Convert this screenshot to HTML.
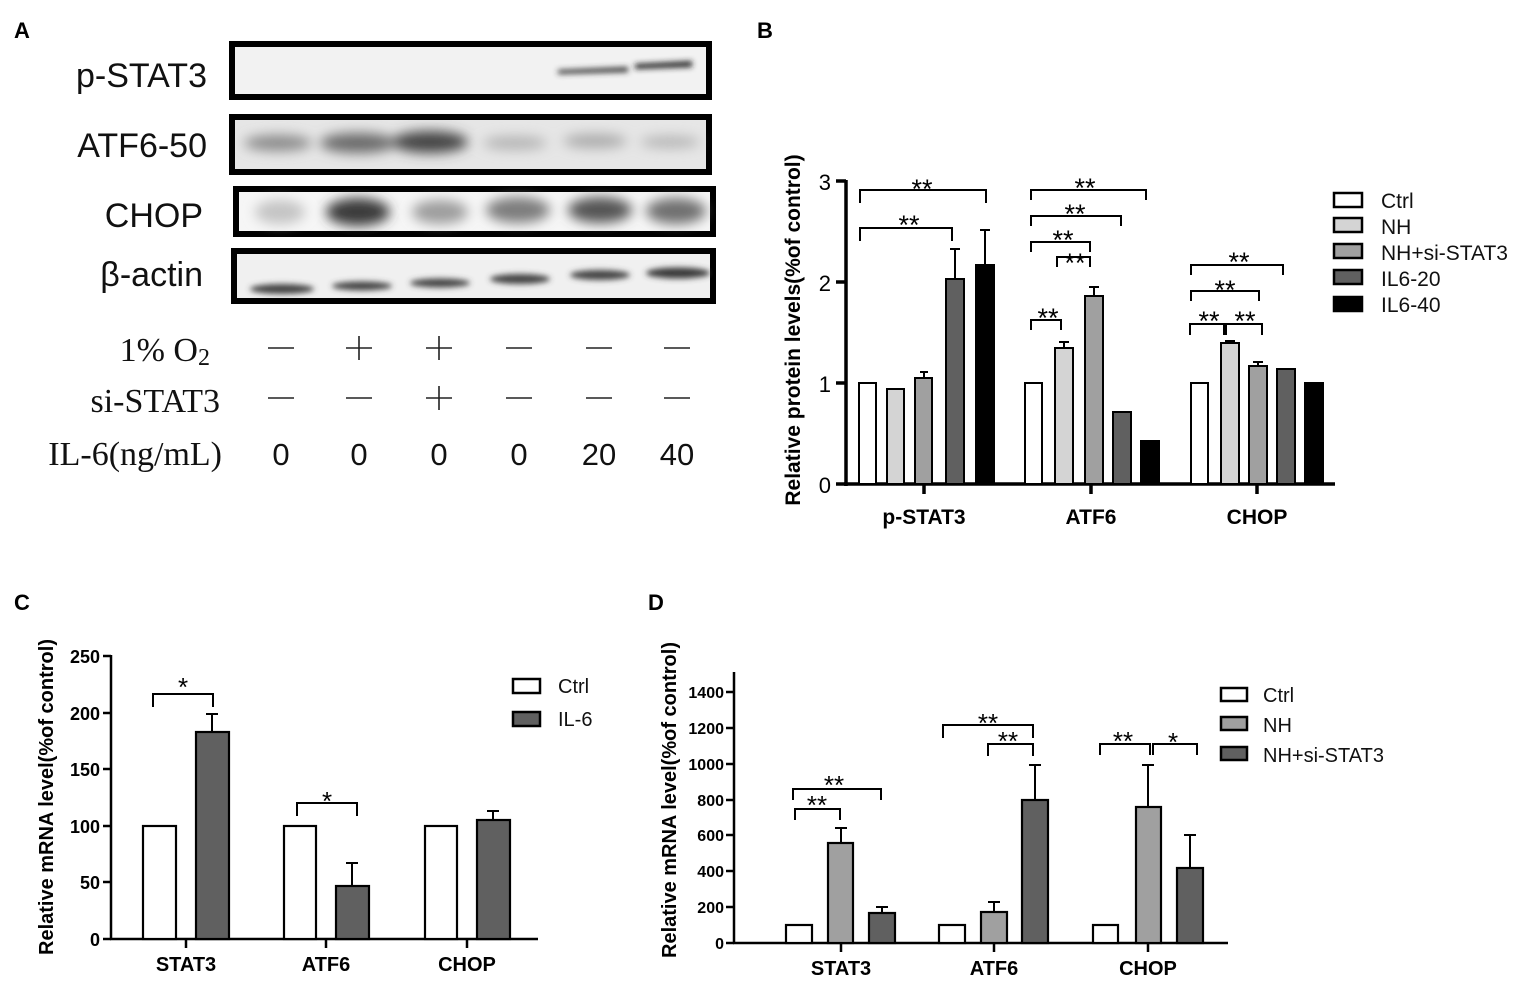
<!DOCTYPE html>
<html><head><meta charset="utf-8"><style>
html,body{margin:0;padding:0;background:#fff;}
svg{display:block;}
text{font-family:"Liberation Sans",Arial,sans-serif;}
.b{font-weight:bold;}
.serif{font-family:"Liberation Serif","Times New Roman",serif;}
</style></head><body>
<svg width="1535" height="985" viewBox="0 0 1535 985" xmlns="http://www.w3.org/2000/svg">
<defs>
<filter id="bl" x="-20%" y="-100%" width="140%" height="300%"><feGaussianBlur stdDeviation="3"/></filter>
<filter id="bl2" x="-20%" y="-100%" width="140%" height="300%"><feGaussianBlur stdDeviation="6"/></filter>
</defs>
<rect width="1535" height="985" fill="#fff"/>
<text x="14" y="38" font-size="22" class="b">A</text>
<text x="757" y="38" font-size="22" class="b">B</text>
<text x="14" y="610" font-size="22" class="b">C</text>
<text x="648" y="610" font-size="22" class="b">D</text>

<!-- Panel A blots -->
<g>
<rect x="232" y="44" width="477" height="53" fill="#f2f2f2" stroke="#000" stroke-width="6"/>
<g filter="url(#bl)">
<path d="M558 70 L628 67 L628 72 L558 74Z" fill="#333"/>
<path d="M635 64 L692 61 L692 67 L635 69Z" fill="#222"/>
</g>
<rect x="232" y="117" width="477" height="55" fill="#e6e6e6" stroke="#000" stroke-width="6"/>
<g filter="url(#bl2)">
<ellipse cx="278" cy="143" rx="34" ry="8" fill="#8a8a8a"/>
<ellipse cx="358" cy="143" rx="38" ry="10" fill="#6a6a6a"/>
<ellipse cx="430" cy="142" rx="38" ry="11" fill="#444"/>
<ellipse cx="515" cy="143" rx="32" ry="7" fill="#b5b5b5"/>
<ellipse cx="595" cy="141" rx="32" ry="7" fill="#aaa"/>
<ellipse cx="670" cy="142" rx="30" ry="6" fill="#b5b5b5"/>
</g>
<rect x="236" y="189" width="477" height="45" fill="#f6f6f6" stroke="#000" stroke-width="6"/>
<g filter="url(#bl2)">
<ellipse cx="280" cy="212" rx="25" ry="12" fill="#c4c4c4"/>
<ellipse cx="358" cy="212" rx="32" ry="14" fill="#3a3a3a"/>
<ellipse cx="440" cy="212" rx="28" ry="12" fill="#9d9d9d"/>
<ellipse cx="518" cy="210" rx="32" ry="13" fill="#7d7d7d"/>
<ellipse cx="600" cy="210" rx="32" ry="13" fill="#555"/>
<ellipse cx="676" cy="211" rx="30" ry="13" fill="#707070"/>
</g>
<rect x="234" y="251" width="479" height="50" fill="#f0f0f0" stroke="#000" stroke-width="6"/>
<g filter="url(#bl)">
<ellipse cx="282" cy="289" rx="32" ry="5" fill="#444"/>
<ellipse cx="362" cy="286" rx="30" ry="4.5" fill="#444"/>
<ellipse cx="440" cy="283" rx="30" ry="4.5" fill="#444"/>
<ellipse cx="520" cy="279" rx="30" ry="5" fill="#444"/>
<ellipse cx="600" cy="275" rx="30" ry="5" fill="#444"/>
<ellipse cx="678" cy="273" rx="32" ry="5.5" fill="#3a3a3a"/>
</g>
<g font-size="34" text-anchor="end" fill="#111">
<text x="207" y="87">p-STAT3</text>
<text x="207" y="157">ATF6-50</text>
<text x="203" y="227">CHOP</text>
<text x="203" y="286">β-actin</text>
</g>
<g class="serif" font-size="34" text-anchor="end" fill="#111">
<text x="210" y="361" class="serif">1% O<tspan font-size="24" dy="4">2</tspan></text>
<text x="220" y="412" class="serif">si-STAT3</text>
<text x="222" y="465" class="serif">IL-6(ng/mL)</text>
</g>
<g stroke="#222" stroke-width="1.6">
<line x1="268" y1="348" x2="294" y2="348"/>
<line x1="346" y1="348" x2="372" y2="348"/><line x1="359" y1="336" x2="359" y2="360"/>
<line x1="426" y1="348" x2="452" y2="348"/><line x1="439" y1="336" x2="439" y2="360"/>
<line x1="506" y1="348" x2="532" y2="348"/>
<line x1="586" y1="348" x2="612" y2="348"/>
<line x1="664" y1="348" x2="690" y2="348"/>
<line x1="268" y1="398" x2="294" y2="398"/>
<line x1="346" y1="398" x2="372" y2="398"/>
<line x1="426" y1="398" x2="452" y2="398"/><line x1="439" y1="386" x2="439" y2="410"/>
<line x1="506" y1="398" x2="532" y2="398"/>
<line x1="586" y1="398" x2="612" y2="398"/>
<line x1="664" y1="398" x2="690" y2="398"/>
</g>
<g font-size="31" text-anchor="middle" fill="#111">
<text x="281" y="465">0</text><text x="359" y="465">0</text><text x="439" y="465">0</text>
<text x="519" y="465">0</text><text x="599" y="465">20</text><text x="677" y="465">40</text>
</g>
</g>

<!-- Panel B -->
<g>
<text transform="translate(800,330) rotate(-90)" font-size="21" class="b" text-anchor="middle">Relative protein levels(%of control)</text>
<g stroke="#000" stroke-width="3.5" fill="none">
<line x1="846" y1="180" x2="846" y2="486"/>
<line x1="844" y1="484" x2="1335" y2="484"/>
<line x1="836" y1="181" x2="846" y2="181"/>
<line x1="836" y1="282" x2="846" y2="282"/>
<line x1="836" y1="383" x2="846" y2="383"/>
<line x1="836" y1="484" x2="846" y2="484"/>
<line x1="924" y1="484" x2="924" y2="494"/>
<line x1="1091" y1="484" x2="1091" y2="494"/>
<line x1="1257" y1="484" x2="1257" y2="494"/>
</g>
<g font-size="22" text-anchor="end" fill="#000"><text x="831" y="190">3</text><text x="831" y="291">2</text><text x="831" y="392">1</text><text x="831" y="493">0</text></g>
<g font-size="21" class="b" text-anchor="middle"><text x="924" y="524">p-STAT3</text><text x="1091" y="524">ATF6</text><text x="1257" y="524">CHOP</text></g>
<g stroke="#000" stroke-width="2">
<rect x="859" y="383" width="17" height="101" fill="#fff"/>
<rect x="887" y="389" width="17" height="95" fill="#d4d4d4"/>
<rect x="915" y="378" width="17" height="106" fill="#a0a0a0"/>
<rect x="946" y="279" width="18" height="205" fill="#606060"/>
<rect x="976" y="265" width="18" height="219" fill="#000"/>
<rect x="1025" y="383" width="17" height="101" fill="#fff"/>
<rect x="1055" y="348" width="18" height="136" fill="#d4d4d4"/>
<rect x="1085" y="296" width="18" height="188" fill="#a0a0a0"/>
<rect x="1113" y="412" width="18" height="72" fill="#606060"/>
<rect x="1141" y="441" width="18" height="43" fill="#000"/>
<rect x="1191" y="383" width="17" height="101" fill="#fff"/>
<rect x="1221" y="343" width="18" height="141" fill="#d4d4d4"/>
<rect x="1249" y="366" width="18" height="118" fill="#a0a0a0"/>
<rect x="1277" y="369" width="18" height="115" fill="#606060"/>
<rect x="1305" y="383" width="18" height="101" fill="#000"/>
</g>
<g stroke="#000" stroke-width="2" fill="none">
<path d="M924 378 V372 M920 372 H928"/>
<path d="M955 279 V249 M950 249 H960"/>
<path d="M985 265 V230 M980 230 H990"/>
<path d="M1064 348 V342 M1059 342 H1069"/>
<path d="M1094 296 V287 M1089 287 H1099"/>
<path d="M1230 343 V341 M1225 341 H1235"/>
<path d="M1258 366 V362 M1253 362 H1263"/>
<path d="M860 203 V190 H986 V203"/>
<path d="M860 241 V228 H952 V241"/>
<path d="M1031 200 V190 H1146 V200"/>
<path d="M1031 226 V216 H1121 V226"/>
<path d="M1031 252 V242 H1090 V252"/>
<path d="M1057 267 V257 H1090 V267"/>
<path d="M1031 330 V320 H1061 V330"/>
<path d="M1191 275 V265 H1283 V275"/>
<path d="M1191 301 V291 H1259 V301"/>
<path d="M1190 335 V324 H1224 V335"/>
<path d="M1226 335 V324 H1262 V335"/>
</g>
<g font-size="27" text-anchor="middle" fill="#000">
<text x="922" y="198">**</text><text x="909" y="234">**</text>
<text x="1085" y="197">**</text><text x="1075" y="223">**</text><text x="1063" y="249">**</text><text x="1075" y="272">**</text>
<text x="1048" y="327">**</text>
<text x="1239" y="271">**</text><text x="1225" y="299">**</text><text x="1209" y="330">**</text><text x="1245" y="330">**</text>
</g>
<g stroke="#000" stroke-width="2.5">
<rect x="1334" y="193" width="28" height="14" fill="#fff"/>
<rect x="1334" y="218" width="28" height="14" fill="#d4d4d4"/>
<rect x="1334" y="244" width="28" height="14" fill="#a0a0a0"/>
<rect x="1334" y="270" width="28" height="14" fill="#606060"/>
<rect x="1334" y="297" width="28" height="14" fill="#000"/>
</g>
<g font-size="21" fill="#111">
<text x="1381" y="208">Ctrl</text><text x="1381" y="234">NH</text><text x="1381" y="260">NH+si-STAT3</text>
<text x="1381" y="286">IL6-20</text><text x="1381" y="312">IL6-40</text>
</g>
</g>

<!-- Panel C -->
<g>
<text transform="translate(53,797) rotate(-90)" font-size="20" class="b" text-anchor="middle">Relative mRNA level(%of control)</text>
<g stroke="#000" stroke-width="2.5" fill="none">
<line x1="111" y1="655" x2="111" y2="940"/>
<line x1="110" y1="939" x2="538" y2="939"/>
<line x1="103" y1="656" x2="111" y2="656"/><line x1="103" y1="713" x2="111" y2="713"/>
<line x1="103" y1="769" x2="111" y2="769"/><line x1="103" y1="826" x2="111" y2="826"/>
<line x1="103" y1="882" x2="111" y2="882"/><line x1="103" y1="939" x2="111" y2="939"/>
<line x1="186" y1="939" x2="186" y2="948"/><line x1="326" y1="939" x2="326" y2="948"/><line x1="467" y1="939" x2="467" y2="948"/>
</g>
<g font-size="18" class="b" text-anchor="end"><text x="100" y="663">250</text><text x="100" y="720">200</text><text x="100" y="776">150</text><text x="100" y="833">100</text><text x="100" y="889">50</text><text x="100" y="946">0</text></g>
<g font-size="20" class="b" text-anchor="middle"><text x="186" y="971">STAT3</text><text x="326" y="971">ATF6</text><text x="467" y="971">CHOP</text></g>
<g stroke="#000" stroke-width="2.2">
<rect x="143" y="826" width="33" height="113" fill="#fff"/>
<rect x="196" y="732" width="33" height="207" fill="#606060"/>
<rect x="284" y="826" width="32" height="113" fill="#fff"/>
<rect x="336" y="886" width="33" height="53" fill="#606060"/>
<rect x="425" y="826" width="32" height="113" fill="#fff"/>
<rect x="477" y="820" width="33" height="119" fill="#606060"/>
</g>
<g stroke="#000" stroke-width="2" fill="none">
<path d="M212 732 V714 M206 714 H218"/>
<path d="M352 886 V863 M346 863 H358"/>
<path d="M493 820 V811 M487 811 H499"/>
<path d="M153 707 V694 H213 V707"/>
<path d="M297 816 V803 H357 V816"/>
</g>
<g font-size="26" text-anchor="middle"><text x="183" y="696">*</text><text x="327" y="810">*</text></g>
<g stroke="#000" stroke-width="2.5"><rect x="513" y="679" width="27" height="14" fill="#fff"/><rect x="513" y="712" width="27" height="14" fill="#606060"/></g>
<g font-size="20" fill="#111"><text x="558" y="693">Ctrl</text><text x="558" y="726">IL-6</text></g>
</g>

<!-- Panel D -->
<g>
<text transform="translate(676,800) rotate(-90)" font-size="20" class="b" text-anchor="middle">Relative mRNA level(%of control)</text>
<g stroke="#000" stroke-width="2.5" fill="none">
<line x1="734" y1="672" x2="734" y2="944"/>
<line x1="733" y1="943" x2="1228" y2="943"/>
<line x1="726" y1="692" x2="734" y2="692"/><line x1="726" y1="728" x2="734" y2="728"/>
<line x1="726" y1="764" x2="734" y2="764"/><line x1="726" y1="800" x2="734" y2="800"/>
<line x1="726" y1="835" x2="734" y2="835"/><line x1="726" y1="871" x2="734" y2="871"/>
<line x1="726" y1="907" x2="734" y2="907"/><line x1="726" y1="943" x2="734" y2="943"/>
<line x1="841" y1="943" x2="841" y2="952"/><line x1="994" y1="943" x2="994" y2="952"/><line x1="1148" y1="943" x2="1148" y2="952"/>
</g>
<g font-size="16" class="b" text-anchor="end"><text x="724" y="698">1400</text><text x="724" y="734">1200</text><text x="724" y="770">1000</text><text x="724" y="806">800</text><text x="724" y="841">600</text><text x="724" y="877">400</text><text x="724" y="913">200</text><text x="724" y="949">0</text></g>
<g font-size="20" class="b" text-anchor="middle"><text x="841" y="975">STAT3</text><text x="994" y="975">ATF6</text><text x="1148" y="975">CHOP</text></g>
<g stroke="#000" stroke-width="2.2">
<rect x="786" y="925" width="26" height="18" fill="#fff"/>
<rect x="828" y="843" width="25" height="100" fill="#a0a0a0"/>
<rect x="869" y="913" width="26" height="30" fill="#606060"/>
<rect x="939" y="925" width="26" height="18" fill="#fff"/>
<rect x="981" y="912" width="26" height="31" fill="#a0a0a0"/>
<rect x="1022" y="800" width="26" height="143" fill="#606060"/>
<rect x="1093" y="925" width="25" height="18" fill="#fff"/>
<rect x="1136" y="807" width="25" height="136" fill="#a0a0a0"/>
<rect x="1177" y="868" width="26" height="75" fill="#606060"/>
</g>
<g stroke="#000" stroke-width="2" fill="none">
<path d="M841 843 V828 M835 828 H847"/>
<path d="M882 913 V907 M876 907 H888"/>
<path d="M994 912 V902 M988 902 H1000"/>
<path d="M1035 800 V765 M1029 765 H1041"/>
<path d="M1148 807 V765 M1142 765 H1154"/>
<path d="M1190 868 V835 M1184 835 H1196"/>
<path d="M793 800 V789 H881 V800"/>
<path d="M795 820 V809 H840 V820"/>
<path d="M943 738 V725 H1033 V738"/>
<path d="M988 756 V744 H1033 V756"/>
<path d="M1100 755 V744 H1150 V755"/>
<path d="M1153 755 V744 H1197 V755"/>
</g>
<g font-size="26" text-anchor="middle">
<text x="834" y="794">**</text><text x="817" y="814">**</text>
<text x="988" y="732">**</text><text x="1008" y="750">**</text>
<text x="1123" y="750">**</text><text x="1173" y="751">*</text>
</g>
<g stroke="#000" stroke-width="2.5"><rect x="1221" y="688" width="26" height="13" fill="#fff"/><rect x="1221" y="717" width="26" height="13" fill="#a0a0a0"/><rect x="1221" y="747" width="26" height="13" fill="#606060"/></g>
<g font-size="20" fill="#111"><text x="1263" y="702">Ctrl</text><text x="1263" y="732">NH</text><text x="1263" y="762">NH+si-STAT3</text></g>
</g>
</svg>
</body></html>
